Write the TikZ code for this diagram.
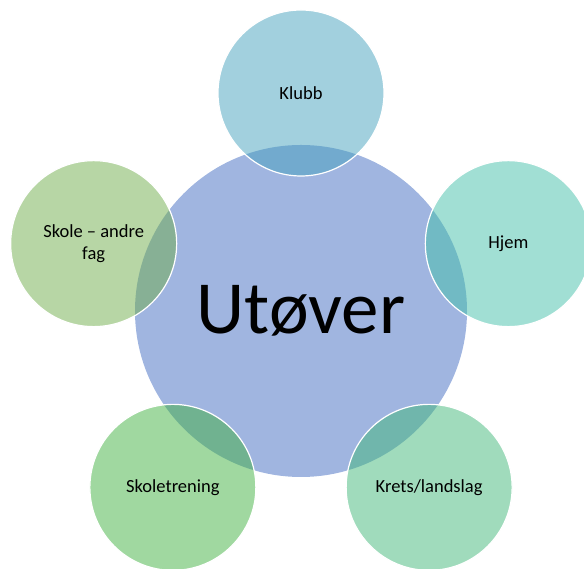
\documentclass[tikz,border=0pt]{standalone}
\usepackage{fontspec}
\setmainfont{Carlito}
\usetikzlibrary{positioning}
\definecolor{corefill}{RGB}{160,181,224}
\definecolor{klubbfill}{RGB}{69,161,189}
\definecolor{hjemfill}{RGB}{67,191,169}
\definecolor{kretsfill}{RGB}{65,183,121}
\definecolor{treningfill}{RGB}{65,177,65}
\definecolor{skolefill}{RGB}{111,173,75}
\newcommand{\SatDist}{218pt}
\tikzset{
  hub/.style={circle, fill=corefill, minimum size=332pt, inner sep=0pt,
    font=\fontsize{75}{80}\selectfont},
  sat/.style={circle, fill=#1, fill opacity=0.5, text opacity=1, draw=white,
    line width=1.2pt, minimum size=166pt, inner sep=0pt, align=center,
    font=\fontsize{18.5}{21.5}\selectfont}
}

\begin{document}
\begin{tikzpicture}[x=1pt, y=1pt]
  \useasboundingbox (0,0) rectangle (584,569);
  % centre circle
  \node[hub] (utover) at (301,258) {Utøver};
  % five circles round it
  \foreach \ang/\col/\name/\txt in {
      90/klubbfill/klubb/Klubb,
      18/hjemfill/hjem/Hjem,
      -54/kretsfill/krets/Krets\slash landslag,
      -126/treningfill/trening/Skoletrening,
      162/skolefill/skole/{Skole -- andre\\fag}}{
    \node[sat=\col] (\name) at ([shift={(\ang:\SatDist)}]utover.center) {\txt};
  }
\end{tikzpicture}
\end{document}
